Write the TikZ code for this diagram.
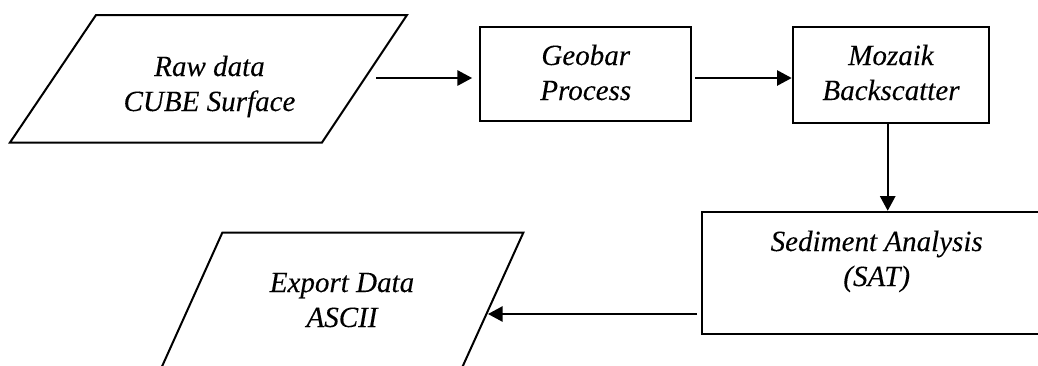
\documentclass[tikz,border=0pt]{standalone}
\usepackage{fontspec}
\setmainfont{Liberation Serif}[FakeStretch=0.99,FakeBold=0.15]
\usetikzlibrary{arrows.meta}

% two centred lines whose baseline is the first line's
\newcommand{\twoline}[2]{\begin{tabular}[t]{@{}c@{}}#1\\#2\end{tabular}}

\begin{document}
\begin{tikzpicture}[x=0.75pt,y=-0.75pt,
  shapeline/.style={line width=1.5pt, line join=miter},
  box/.style={draw, shapeline, rectangle, inner sep=0pt},
  flow/.style={line width=1.3pt, -{Triangle[length=11pt,width=11.5pt]}},
  txt/.style={anchor=base, inner sep=0pt,
    font=\fontsize{22}{26.25}\selectfont\itshape}]
\useasboundingbox (0,0) rectangle (1038,365);
\clip (0,0) rectangle (1038,365);

% input parallelogram
\draw[shapeline] (96,15) -- (407,15) -- (322,142.5) -- (10,142.5) -- cycle;
\node[txt] (rawtxt) at (209.5,76) {\twoline{Raw data}{CUBE Surface}};
\coordinate (rawout) at (376,78);

% processing boxes
\node[box, minimum width=158.2pt, minimum height=70pt] (geo) at (585.75,74) {};
\node[txt] (geotxt) at (585.75,65) {\twoline{Geobar}{Process}};
\coordinate (geoout) at (695,78);

\node[box, minimum width=147.5pt, minimum height=72pt] (moz) at (891,75.3) {};
\node[txt] (moztxt) at (891,65) {\twoline{Mozaik}{Backscatter}};
\coordinate (mozout) at (887.7,123.3);

\node[box, minimum width=261.5pt, minimum height=91.7pt] (sed) at (876.7,272.9) {};
\node[txt] (sedtxt) at (876.7,251) {\twoline{Sediment Analysis}{(SAT)}};
\coordinate (sedout) at (697,314);

% output parallelogram
\draw[shapeline] (222.3,232.7) -- (523.3,232.7) -- (447.4,400) -- (146.9,400) -- cycle;
\node[txt] (exptxt) at (342,292) {\twoline{Export Data}{ASCII}};
\coordinate (expin) at (488,314);

% connectors
\draw[flow, shorten >=5.4pt] (rawout) -- (rawout -| geo.west);
\draw[flow] (geoout) -- (geoout -| moz.west);
\draw[flow] (mozout) -- (mozout |- sed.north);
\draw[flow] (sedout) -- (expin);
\end{tikzpicture}
\end{document}
